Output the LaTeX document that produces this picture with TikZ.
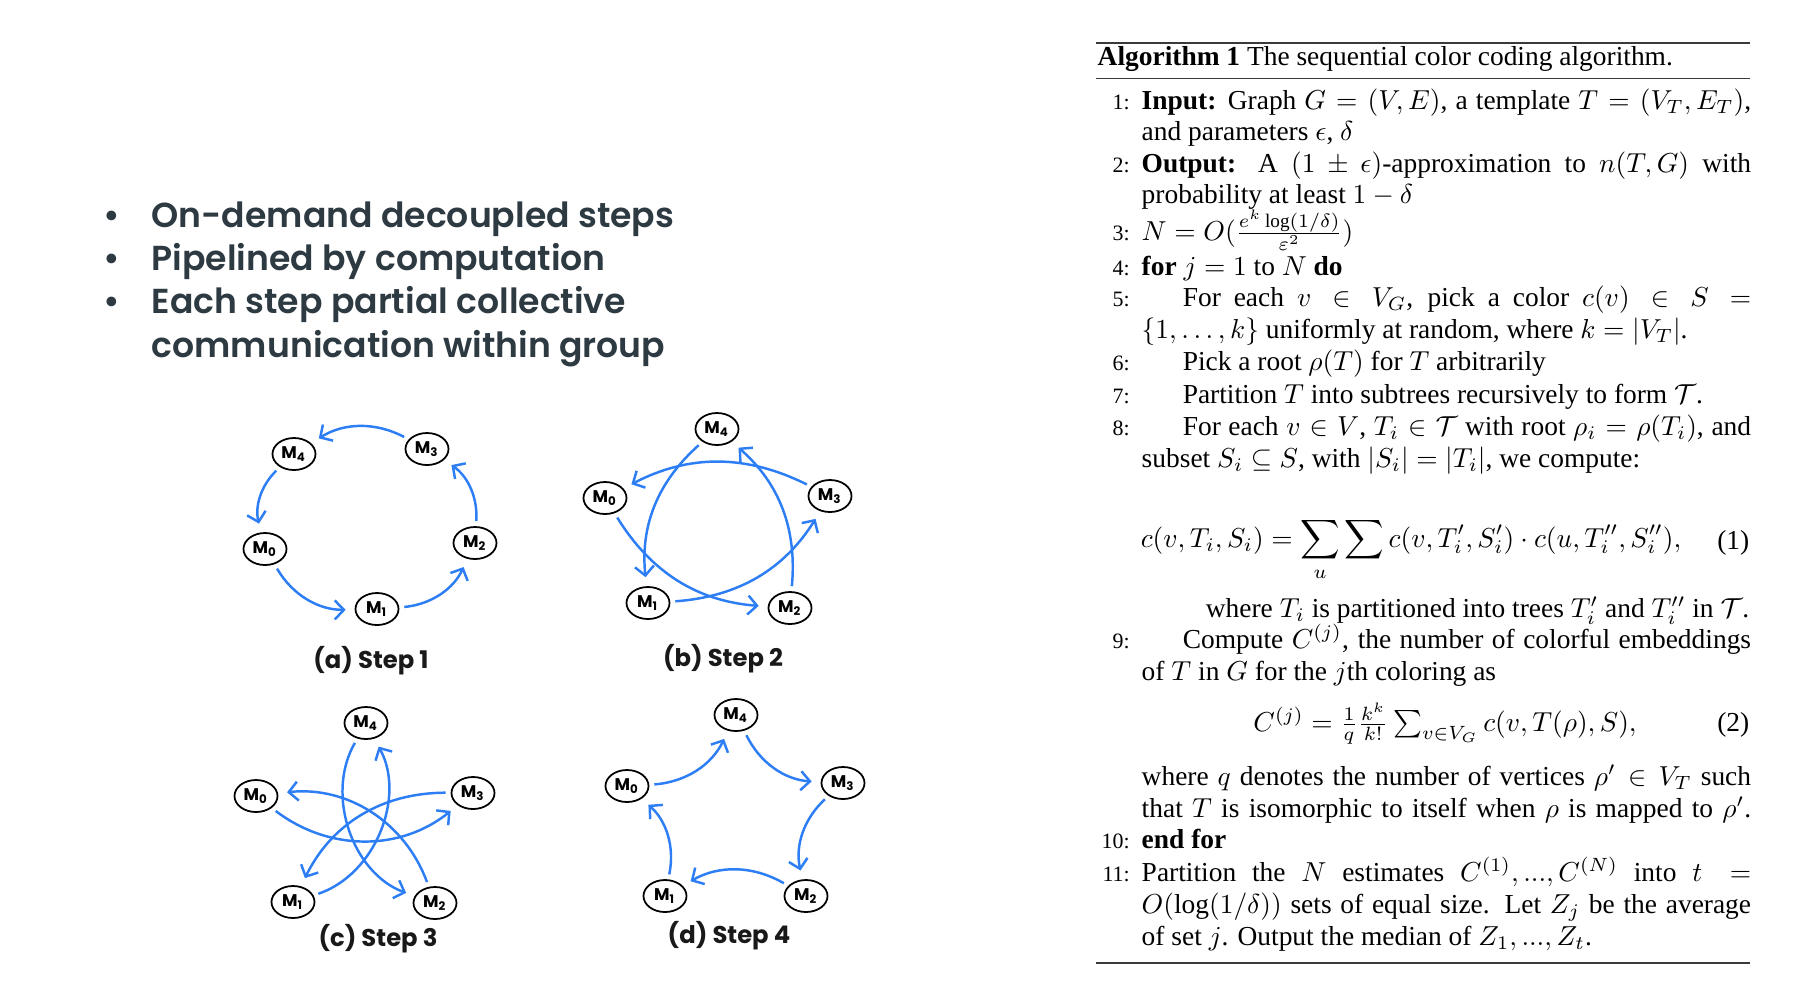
\documentclass[tikz,border=0pt]{standalone}
\usepackage{amsmath,amssymb}
\usepackage{graphicx}
\usepackage{fontspec}
\setmainfont{Liberation Serif}
\IfFontExistsTF{Poppins SemiBold}{\newfontfamily\slidefont{Poppins SemiBold}}{\newfontfamily\slidefont{Poppins}[FakeBold=1]}
\newfontfamily\slidebold{Poppins}
\usepackage{tikz}
\usetikzlibrary{arrows.meta,positioning,shapes.geometric}
\definecolor{FlowBlue}{HTML}{2D7EF5}
\definecolor{SlideText}{HTML}{2E3A42}
\definecolor{RuleGrey}{HTML}{3A3A3A}
\newcommand{\mach}[1]{M\textsubscript{#1}}
% one algorithm line: number, box mode (s = justified, l = ragged), text
\newcommand{\algrow}[3]{\scalebox{0.78}{\makebox[0.577cm][l]{\makebox[0.423cm][r]{\footnotesize #1}}\makebox[7.808cm][#2]{#3}}}
\newcommand{\algbit}[1]{\scalebox{0.78}{#1}}
\newcommand{\ind}{\hspace*{0.526cm}}

\begin{document}
\begin{tikzpicture}[x=0.01cm,y=-0.01cm,
    mnode/.style={ellipse,draw,line width=0.5pt,minimum width=4.3mm,minimum height=3.2mm,inner sep=0pt,font=\slidebold\bfseries\fontsize{4.8}{5}\selectfont},
    flow/.style={FlowBlue,line width=0.7pt,-{Straight Barb[length=2.6pt,width=5.4pt]},shorten <=0.5mm,shorten >=0.9mm},
    steplbl/.style={font=\slidebold\bfseries\fontsize{6.9}{7}\selectfont,text=black!90},
    bullet/.style={anchor=base west,inner sep=0pt,font=\slidefont\fontsize{9.85}{11}\selectfont,text=SlideText},
    algtxt/.style={anchor=base west,inner sep=0pt,font=\fontsize{10}{12}\selectfont},
  ]
  \useasboundingbox[fill=white] (0,0) rectangle (1806,1002);
  % Bullet list
  \node[bullet,anchor=base] (dot1) at (112,227) {•};
  \node[bullet,anchor=base] (dot2) at (112,270.7) {•};
  \node[bullet,anchor=base] (dot3) at (112,313.3) {•};
  \node[bullet] (txt1) at (151,227) {On-demand decoupled steps};
  \node[bullet] (txt2) at (151,270.7) {Pipelined by computation};
  \node[bullet] (txt3) at (151,313.3) {Each step partial collective};
  \node[bullet] (txt4) at (151,357.1) {communication within group};

  % (a) Step 1
  \node[mnode] (a4) at (294,454) {\mach{4}};
  \node[mnode] (a3) at (427,449) {\mach{3}};
  \node[mnode] (a0) at (265,549) {\mach{0}};
  \node[mnode] (a2) at (475,543) {\mach{2}};
  \node[mnode] (a1) at (377,609) {\mach{1}};
  \draw[flow] (a0) to[bend right=30] (a1);
  \draw[flow] (a1) to[bend right=30] (a2);
  \draw[flow] (a2) to[bend right=30] (a3);
  \draw[flow] (a3) to[bend right=30] (a4);
  \draw[flow] (a4) to[bend right=30] (a0);
  \node[steplbl] (capa) at (371,661) {(a) Step 1};

  % (b) Step 2
  \node[mnode] (b4) at (717,429) {\mach{4}};
  \node[mnode] (b0) at (605,498) {\mach{0}};
  \node[mnode] (b3) at (830,496) {\mach{3}};
  \node[mnode] (b1) at (648,603) {\mach{1}};
  \node[mnode] (b2) at (790,608) {\mach{2}};
  \draw[flow] (b4) to[bend right=27] (b1);
  \draw[flow] (b0) to[bend right=27] (b2);
  \draw[flow] (b1) to[bend right=27] (b3);
  \draw[flow] (b2) to[bend right=27] (b4);
  \draw[flow] (b3) to[bend right=27] (b0);
  \node[steplbl] (capb) at (723,659) {(b) Step 2};

  % (c) Step 3
  \node[mnode] (c4) at (366,723) {\mach{4}};
  \node[mnode] (c0) at (256,796) {\mach{0}};
  \node[mnode] (c3) at (473,793) {\mach{3}};
  \node[mnode] (c1) at (293,902) {\mach{1}};
  \node[mnode] (c2) at (435,903) {\mach{2}};
  \draw[flow] (c0) to[bend right=38] (c3);
  \draw[flow] (c1) to[bend right=50] (c4);
  \draw[flow] (c2) to[bend right=38] (c0);
  \draw[flow] (c3) to[bend right=32] (c1);
  \draw[flow] (c4) to[bend right=50] (c2);
  \node[steplbl] (capc) at (378,939) {(c) Step 3};

  % (d) Step 4
  \node[mnode] (d4) at (736,715) {\mach{4}};
  \node[mnode] (d0) at (627,786) {\mach{0}};
  \node[mnode] (d3) at (843,783) {\mach{3}};
  \node[mnode] (d1) at (665,896) {\mach{1}};
  \node[mnode] (d2) at (806,896) {\mach{2}};
  \draw[flow] (d0) to[bend right=30] (d4);
  \draw[flow] (d4) to[bend right=30] (d3);
  \draw[flow] (d3) to[bend right=30] (d2);
  \draw[flow] (d2) to[bend right=30] (d1);
  \draw[flow] (d1) to[bend right=30] (d0);
  \node[steplbl] (capd) at (729,936) {(d) Step 4};

  % Algorithm box
  \draw[RuleGrey,line width=0.6pt] (1096,42.6) -- (1750,42.6);
  \draw[RuleGrey,line width=0.4pt] (1096,78.3) -- (1750,78.3);
  \draw[RuleGrey,line width=0.4pt] (1096,963) -- (1750,963);
  \node[algtxt] (title) at (1097,65.6) {\algbit{\textbf{Algorithm 1} The sequential color coding algorithm.}};
  \node[algtxt] (l1a) at (1096,109.4) {\algrow{1:}{s}{\textbf{Input:} Graph $G=(V,E)$, a template $T=(V_T,E_T)$,}};
  \node[algtxt] (l1b) at (1096,140.5) {\algrow{}{l}{and parameters $\epsilon$, $\delta$}};
  \node[algtxt] (l2a) at (1096,172.8) {\algrow{2:}{s}{\textbf{Output:} A $(1\pm\epsilon)$-approximation to $n(T,G)$ with}};
  \node[algtxt] (l2b) at (1096,203.9) {\algrow{}{l}{probability at least $1-\delta$}};
  \node[algtxt] (l3) at (1096,240.7) {\algrow{3:}{l}{$N=O(\frac{e^k\log(1/\delta)}{\varepsilon^2})$}};
  \node[algtxt] (l4) at (1096,275.3) {\algrow{4:}{l}{\textbf{for} $j=1$ to $N$ \textbf{do}}};
  \node[algtxt] (l5a) at (1096,306.4) {\algrow{5:}{s}{\ind For each $v\in V_G$, pick a color $c(v)\in S=$}};
  \node[algtxt] (l5b) at (1096,338.6) {\algrow{}{l}{$\{1,\dots,k\}$ uniformly at random, where $k=|V_T|$.}};
  \node[algtxt] (l6) at (1096,370.9) {\algrow{6:}{l}{\ind Pick a root $\rho(T)$ for $T$ arbitrarily}};
  \node[algtxt] (l7) at (1096,403.1) {\algrow{7:}{l}{\ind Partition $T$ into subtrees recursively to form $\mathcal{T}$.}};
  \node[algtxt] (l8a) at (1096,435.4) {\algrow{8:}{s}{\ind For each $v\in V$, $T_i\in\mathcal{T}$ with root $\rho_i=\rho(T_i)$, and}};
  \node[algtxt] (l8b) at (1096,467.6) {\algrow{}{l}{subset $S_i\subseteq S$, with $|S_i|=|T_i|$, we compute:}};
  \node[algtxt,anchor=base] (eq1) at (1411,547) {\algbit{$\displaystyle c(v,T_i,S_i)=\sum_u\sum c(v,T_i',S_i')\cdot c(u,T_i'',S_i''),$}};
  \node[algtxt,anchor=base east] (no1) at (1750,549) {\algbit{(1)}};
  \node[algtxt,anchor=base east] (l8c) at (1750,617.4) {\algbit{where $T_i$ is partitioned into trees $T_i'$ and $T_i''$ in $\mathcal{T}$.}};
  \node[algtxt] (l9a) at (1096,648.5) {\algrow{9:}{s}{\ind Compute $C^{(j)}$, the number of colorful embeddings}};
  \node[algtxt] (l9b) at (1096,680.7) {\algrow{}{l}{of $T$ in $G$ for the $j$th coloring as}};
  \node[algtxt,anchor=base] (eq2) at (1445,731.4) {\algbit{$C^{(j)}=\frac{1}{q}\frac{k^k}{k!}\sum_{v\in V_G}c(v,T(\rho),S),$}};
  \node[algtxt,anchor=base east] (no2) at (1750,731.4) {\algbit{(2)}};
  \node[algtxt] (l9c) at (1096,785.5) {\algrow{}{s}{where $q$ denotes the number of vertices $\rho'\in V_T$ such}};
  \node[algtxt] (l9d) at (1096,817.8) {\algrow{}{s}{that $T$ is isomorphic to itself when $\rho$ is mapped to $\rho'$.}};
  \node[algtxt] (l10) at (1096,848.9) {\algrow{10:}{l}{\textbf{end for}}};
  \node[algtxt] (l11a) at (1096,881.1) {\algrow{11:}{s}{Partition the $N$ estimates $C^{(1)},...,C^{(N)}$ into $t=$}};
  \node[algtxt] (l11b) at (1096,913.4) {\algrow{}{s}{$O(\log(1/\delta))$ sets of equal size. Let $Z_j$ be the average}};
  \node[algtxt] (l11c) at (1096,945.6) {\algrow{}{l}{of set $j$. Output the median of $Z_1,...,Z_t$.}};
\end{tikzpicture}
\end{document}
